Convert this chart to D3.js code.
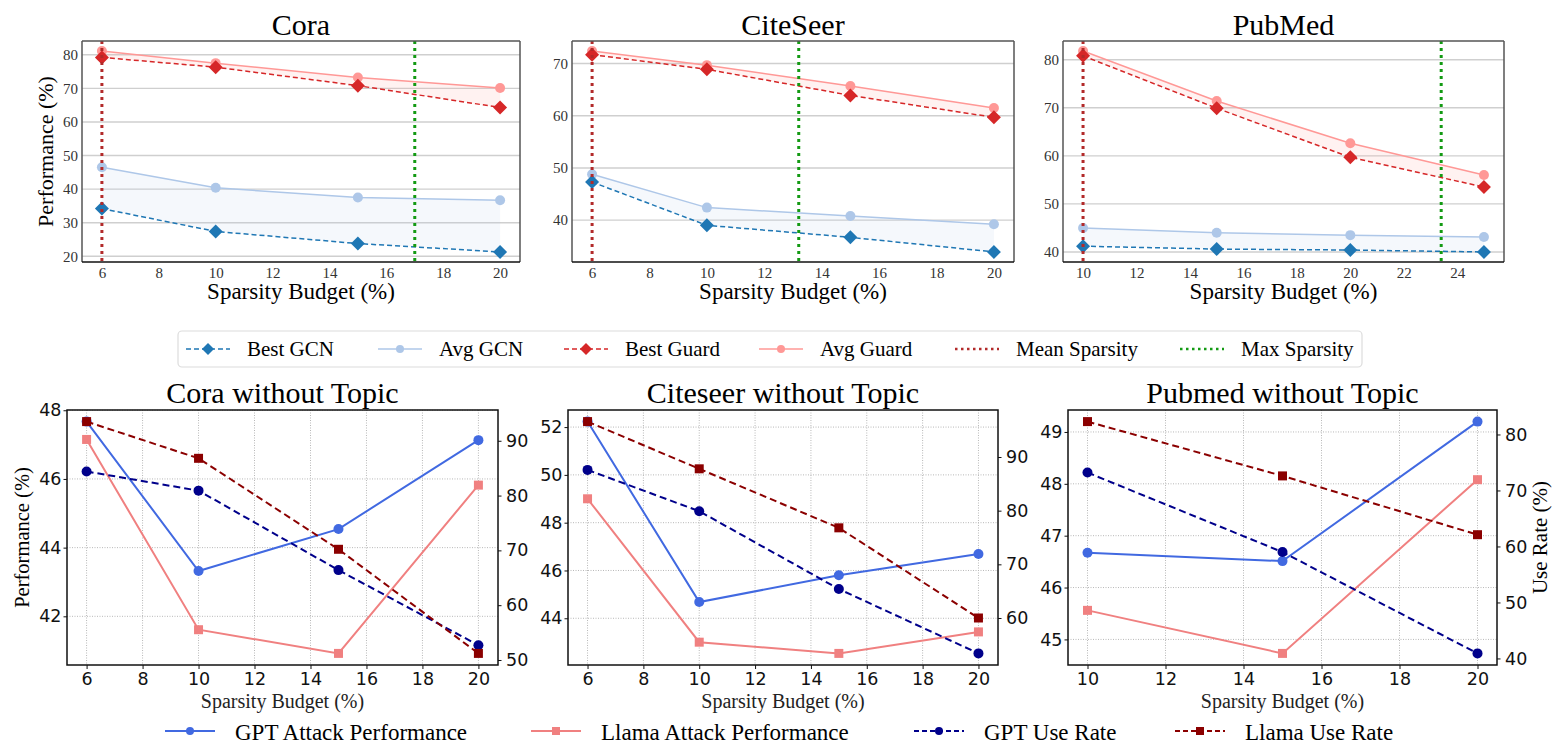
<!DOCTYPE html>
<html>
<head>
<meta charset="utf-8">
<script src="https://d3js.org/d3.v7.min.js"></script>
<style>
  body { margin:0; background:#fff; }
  svg { display:block; }
</style>
</head>
<body>
<svg width="1555" height="745"></svg>
<script>
// ---------- top row: GCN vs Guard over sparsity budget ----------
var coraBudget    = [6, 10, 15, 20];
var coraBestGCN   = [34.2, 27.4, 23.8, 21.3];
var coraAvgGCN    = [46.5, 40.4, 37.5, 36.7];
var coraBestGuard = [79.2, 76.3, 70.8, 64.3];
var coraAvgGuard  = [81.1, 77.5, 73.2, 70.1];

var citeBudget    = [6, 10, 15, 20];
var citeBestGCN   = [47.3, 39.0, 36.7, 33.9];
var citeAvgGCN    = [48.8, 42.4, 40.8, 39.2];
var citeBestGuard = [71.7, 68.9, 63.9, 59.7];
var citeAvgGuard  = [72.4, 69.7, 65.7, 61.5];

var pubBudget     = [10, 15, 20, 25];
var pubBestGCN    = [41.2, 40.6, 40.4, 40.0];
var pubAvgGCN     = [45.0, 44.0, 43.5, 43.1];
var pubBestGuard  = [80.8, 69.9, 59.7, 53.5];
var pubAvgGuard   = [81.8, 71.4, 62.6, 56.0];

var meanSparsity = [6, 6, 10];
var maxSparsity  = [17.0, 13.2, 23.4];

var topTitles = ["Cora", "CiteSeer", "PubMed"];
var topXTicks = [[6, 8, 10, 12, 14, 16, 18, 20], [6, 8, 10, 12, 14, 16, 18, 20], [10, 12, 14, 16, 18, 20, 22, 24]];
var topYTicks = [[20, 30, 40, 50, 60, 70, 80], [40, 50, 60, 70], [40, 50, 60, 70, 80]];

// ---------- bottom row: without topic ----------
var coraNTBudget      = [6, 10, 15, 20];
var coraGptAttack     = [47.67, 43.32, 44.54, 47.13];
var coraLlamaAttack   = [47.15, 41.61, 40.92, 45.82];
var coraGptUse        = [84.4, 80.9, 66.4, 52.7];
var coraLlamaUse      = [93.5, 86.8, 70.2, 51.2];

var citeNTBudget      = [6, 10, 15, 20];
var citeGptAttack     = [52.23, 44.68, 45.80, 46.69];
var citeLlamaAttack   = [49.0, 43.0, 42.53, 43.43];
var citeGptUse        = [87.6, 79.9, 65.4, 53.4];
var citeLlamaUse      = [96.6, 87.8, 76.8, 60.0];

var pubNTBudget       = [10, 15, 20];
var pubGptAttack      = [46.67, 46.51, 49.2];
var pubLlamaAttack    = [45.56, 44.73, 48.08];
var pubGptUse         = [73.2, 59.0, 40.9];
var pubLlamaUse       = [82.3, 72.6, 62.1];

var bottomTitles = ["Cora without Topic", "Citeseer without Topic", "Pubmed without Topic"];
var bottomXTicks = [[6, 8, 10, 12, 14, 16, 18, 20], [6, 8, 10, 12, 14, 16, 18, 20], [10, 12, 14, 16, 18, 20]];
var bottomLeftTicks = [[42, 44, 46, 48], [44, 46, 48, 50, 52], [45, 46, 47, 48, 49]];
var bottomRightTicks = [[50, 60, 70, 80, 90], [60, 70, 80, 90], [40, 50, 60, 70, 80]];

var serif = "'Liberation Serif','Times New Roman',serif";
var sans = "'DejaVu Sans',sans-serif";
var intFmt = d3.format("d");

var svg = d3.select("svg");

function padDomain(vals) {
  var e = d3.extent(vals), m = (e[1] - e[0]) * 0.05;
  return [e[0] - m, e[1] + m];
}
function diamond(r) { return "M0," + (-r) + "L" + r + ",0L0," + r + "L" + (-r) + ",0Z"; }
function square(r) { return "M" + (-r) + "," + (-r) + "h" + 2 * r + "v" + 2 * r + "h" + (-2 * r) + "Z"; }

function drawMarker(g, kind, cx, cy, color, size) {
  if (kind == "circle") {
    g.append("circle").attr("cx", cx).attr("cy", cy).attr("r", size).attr("fill", color);
  } else {
    g.append("path").attr("d", kind == "diamond" ? diamond(size) : square(size))
      .attr("transform", "translate(" + cx + "," + cy + ")").attr("fill", color);
  }
}

// ---------------- top panels ----------------
var topPanels = [
  {left: 82, right: 520, budget: coraBudget, bestGCN: coraBestGCN, avgGCN: coraAvgGCN, bestGuard: coraBestGuard, avgGuard: coraAvgGuard},
  {left: 572, right: 1014, budget: citeBudget, bestGCN: citeBestGCN, avgGCN: citeAvgGCN, bestGuard: citeBestGuard, avgGuard: citeAvgGuard},
  {left: 1063, right: 1504, budget: pubBudget, bestGCN: pubBestGCN, avgGCN: pubAvgGCN, bestGuard: pubBestGuard, avgGuard: pubAvgGuard}
];
var topTop = 41, topBottom = 262;

var topStyles = {
  avgGCN:    {color: "#aec7e8", dash: null,  marker: "circle",  size: 5},
  bestGCN:   {color: "#1f77b4", dash: "5,3", marker: "diamond", size: 7},
  avgGuard:  {color: "#ff9896", dash: null,  marker: "circle",  size: 5},
  bestGuard: {color: "#d62728", dash: "5,3", marker: "diamond", size: 7}
};
var meanColor = "#b22a2a", maxColor = "#139a13";

topPanels.forEach(function(p, i) {
  var g = svg.append("g");
  var x = d3.scaleLinear().domain(padDomain(p.budget)).range([p.left, p.right]);
  var y = d3.scaleLinear()
    .domain(padDomain([].concat(p.bestGCN, p.avgGCN, p.bestGuard, p.avgGuard)))
    .range([topBottom, topTop]);

  g.selectAll(".grid").data(topYTicks[i]).enter().append("line")
    .attr("x1", p.left).attr("x2", p.right)
    .attr("y1", function(d) { return y(d); }).attr("y2", function(d) { return y(d); })
    .attr("stroke", "#cfcfcf").attr("stroke-width", 1.4);

  function band(lo, hi, color) {
    var rows = p.budget.map(function(b, k) { return {b: b, lo: lo[k], hi: hi[k]}; });
    g.append("path").datum(rows)
      .attr("d", d3.area().x(function(d) { return x(d.b); })
        .y0(function(d) { return y(d.lo); }).y1(function(d) { return y(d.hi); }))
      .attr("fill", color).attr("fill-opacity", 0.13);
  }
  band(p.bestGCN, p.avgGCN, "#aec7e8");
  band(p.bestGuard, p.avgGuard, "#ff9896");

  var line = d3.line().x(function(d) { return x(d[0]); }).y(function(d) { return y(d[1]); });
  ["avgGCN", "bestGCN", "avgGuard", "bestGuard"].forEach(function(key) {
    var st = topStyles[key];
    var pts = p.budget.map(function(b, k) { return [b, p[key][k]]; });
    g.append("path").datum(pts).attr("d", line).attr("fill", "none")
      .attr("stroke", st.color).attr("stroke-width", 1.5)
      .attr("stroke-dasharray", st.dash);
    pts.forEach(function(d) { drawMarker(g, st.marker, x(d[0]), y(d[1]), st.color, st.size); });
  });

  // sparsity markers
  [[meanSparsity[i], meanColor], [maxSparsity[i], maxColor]].forEach(function(v) {
    g.append("line").attr("x1", x(v[0])).attr("x2", x(v[0]))
      .attr("y1", topTop).attr("y2", topBottom)
      .attr("stroke", v[1]).attr("stroke-width", 3).attr("stroke-dasharray", "3,4");
  });

  // spines
  g.append("line").attr("x1", p.left).attr("x2", p.right).attr("y1", topTop).attr("y2", topTop).attr("stroke", "#555").attr("stroke-width", 1.5);
  g.append("line").attr("x1", p.right).attr("x2", p.right).attr("y1", topTop).attr("y2", topBottom).attr("stroke", "#555").attr("stroke-width", 1.5);
  g.append("line").attr("x1", p.left).attr("x2", p.left).attr("y1", topTop).attr("y2", topBottom).attr("stroke", "#555").attr("stroke-width", 1.5);
  g.append("line").attr("x1", p.left).attr("x2", p.right).attr("y1", topBottom).attr("y2", topBottom).attr("stroke", "#111").attr("stroke-width", 1.5);

  var xa = g.append("g").attr("transform", "translate(0," + topBottom + ")")
    .call(d3.axisBottom(x).tickValues(topXTicks[i]).tickFormat(intFmt).tickSize(0).tickPadding(5));
  var ya = g.append("g").attr("transform", "translate(" + p.left + ",0)")
    .call(d3.axisLeft(y).tickValues(topYTicks[i]).tickFormat(intFmt).tickSize(0).tickPadding(4));
  [xa, ya].forEach(function(a) {
    a.select(".domain").remove();
    a.selectAll("text").attr("font-family", serif).attr("font-size", 15).attr("fill", "#333");
  });

  g.append("text").attr("x", (p.left + p.right) / 2).attr("y", 35)
    .attr("text-anchor", "middle").attr("font-family", serif).attr("font-size", 30)
    .text(topTitles[i]);
  g.append("text").attr("x", (p.left + p.right) / 2).attr("y", 299)
    .attr("text-anchor", "middle").attr("font-family", serif).attr("font-size", 23)
    .text("Sparsity Budget (%)");
});

svg.append("text").attr("transform", "translate(45," + (topTop + topBottom) / 2 + ") rotate(-90)")
  .attr("dy", "0.35em").attr("text-anchor", "middle")
  .attr("font-family", serif).attr("font-size", 22).text("Performance (%)");

// top legend
var topLegend = [
  {name: "Best GCN", st: topStyles.bestGCN, x: 186},
  {name: "Avg GCN", st: topStyles.avgGCN, x: 378},
  {name: "Best Guard", st: topStyles.bestGuard, x: 564},
  {name: "Avg Guard", st: topStyles.avgGuard, x: 759},
  {name: "Mean Sparsity", st: {color: meanColor, dash: "2.5,3.5", marker: null}, x: 955},
  {name: "Max Sparsity", st: {color: maxColor, dash: "2.5,3.5", marker: null}, x: 1180}
];
var lg = svg.append("g");
lg.append("rect").attr("x", 178).attr("y", 331).attr("width", 1184).attr("height", 36)
  .attr("rx", 4).attr("fill", "#fff").attr("stroke", "#dcdcdc").attr("stroke-width", 1.2);
topLegend.forEach(function(e) {
  lg.append("line").attr("x1", e.x).attr("x2", e.x + 44).attr("y1", 349).attr("y2", 349)
    .attr("stroke", e.st.color).attr("stroke-width", e.st.marker ? 1.5 : 2.5)
    .attr("stroke-dasharray", e.st.dash);
  if (e.st.marker) drawMarker(lg, e.st.marker, e.x + 22, 349, e.st.color, e.st.marker == "circle" ? 4 : 6);
  lg.append("text").attr("x", e.x + 61).attr("y", 356)
    .attr("font-family", serif).attr("font-size", 21).text(e.name);
});

// ---------------- bottom panels ----------------
var bottomPanels = [
  {left: 67, right: 498, budget: coraNTBudget, gptAttack: coraGptAttack, llamaAttack: coraLlamaAttack, gptUse: coraGptUse, llamaUse: coraLlamaUse},
  {left: 568, right: 998, budget: citeNTBudget, gptAttack: citeGptAttack, llamaAttack: citeLlamaAttack, gptUse: citeGptUse, llamaUse: citeLlamaUse},
  {left: 1068, right: 1497, budget: pubNTBudget, gptAttack: pubGptAttack, llamaAttack: pubLlamaAttack, gptUse: pubGptUse, llamaUse: pubLlamaUse}
];
var botTop = 410, botBottom = 665;

var botStyles = {
  gptAttack:   {color: "#4169e1", dash: null,  marker: "circle", size: 5},
  llamaAttack: {color: "#f08080", dash: null,  marker: "square", size: 4.5},
  gptUse:      {color: "#00008b", dash: "7,4", marker: "circle", size: 5},
  llamaUse:    {color: "#8b0000", dash: "7,4", marker: "square", size: 4.5}
};

bottomPanels.forEach(function(p, i) {
  var g = svg.append("g");
  var x = d3.scaleLinear().domain(padDomain(p.budget)).range([p.left, p.right]);
  var yl = d3.scaleLinear().domain(padDomain(p.gptAttack.concat(p.llamaAttack))).range([botBottom, botTop]);
  var yr = d3.scaleLinear().domain(padDomain(p.gptUse.concat(p.llamaUse))).range([botBottom, botTop]);

  g.selectAll(".gx").data(bottomXTicks[i]).enter().append("line")
    .attr("x1", function(d) { return x(d); }).attr("x2", function(d) { return x(d); })
    .attr("y1", botTop).attr("y2", botBottom)
    .attr("stroke", "#b8b8b8").attr("stroke-width", 1).attr("stroke-dasharray", "1,1.5");
  g.selectAll(".gy").data(bottomLeftTicks[i]).enter().append("line")
    .attr("x1", p.left).attr("x2", p.right)
    .attr("y1", function(d) { return yl(d); }).attr("y2", function(d) { return yl(d); })
    .attr("stroke", "#b8b8b8").attr("stroke-width", 1).attr("stroke-dasharray", "1,1.5");

  [["gptAttack", yl], ["llamaAttack", yl], ["gptUse", yr], ["llamaUse", yr]].forEach(function(s) {
    var st = botStyles[s[0]], ys = s[1];
    var pts = p.budget.map(function(b, k) { return [b, p[s[0]][k]]; });
    g.append("path").datum(pts)
      .attr("d", d3.line().x(function(d) { return x(d[0]); }).y(function(d) { return ys(d[1]); }))
      .attr("fill", "none").attr("stroke", st.color).attr("stroke-width", 2)
      .attr("stroke-dasharray", st.dash);
    pts.forEach(function(d) { drawMarker(g, st.marker, x(d[0]), ys(d[1]), st.color, st.size); });
  });

  g.append("rect").attr("x", p.left).attr("y", botTop)
    .attr("width", p.right - p.left).attr("height", botBottom - botTop)
    .attr("fill", "none").attr("stroke", "#111").attr("stroke-width", 1.5);

  var xa = g.append("g").attr("transform", "translate(0," + botBottom + ")")
    .call(d3.axisBottom(x).tickValues(bottomXTicks[i]).tickFormat(intFmt).tickSize(4).tickPadding(4));
  var yla = g.append("g").attr("transform", "translate(" + p.left + ",0)")
    .call(d3.axisLeft(yl).tickValues(bottomLeftTicks[i]).tickFormat(intFmt).tickSize(3.5).tickPadding(2));
  var yra = g.append("g").attr("transform", "translate(" + p.right + ",0)")
    .call(d3.axisRight(yr).tickValues(bottomRightTicks[i]).tickFormat(intFmt).tickSize(3.5).tickPadding(4.5));
  [xa, yla, yra].forEach(function(a) {
    a.select(".domain").remove();
    a.selectAll("line").attr("stroke", "#111");
    a.selectAll("text").attr("font-family", sans).attr("font-size", 17.5).attr("fill", "#111");
  });

  g.append("text").attr("x", (p.left + p.right) / 2).attr("y", 403)
    .attr("text-anchor", "middle").attr("font-family", serif).attr("font-size", 30)
    .text(bottomTitles[i]);
  g.append("text").attr("x", (p.left + p.right) / 2).attr("y", 708)
    .attr("text-anchor", "middle").attr("font-family", serif).attr("font-size", 20)
    .attr("fill", "#222").text("Sparsity Budget (%)");
});

svg.append("text").attr("transform", "translate(22," + (botTop + botBottom) / 2 + ") rotate(-90)")
  .attr("dy", "0.35em").attr("text-anchor", "middle")
  .attr("font-family", serif).attr("font-size", 20.5).text("Performance (%)");
svg.append("text").attr("transform", "translate(1540," + (botTop + botBottom) / 2 + ") rotate(-90)")
  .attr("dy", "0.35em").attr("text-anchor", "middle")
  .attr("font-family", serif).attr("font-size", 21).text("Use Rate (%)");

// bottom legend
var botLegend = [
  {name: "GPT Attack Performance", st: botStyles.gptAttack, x: 165},
  {name: "Llama Attack Performance", st: botStyles.llamaAttack, x: 531},
  {name: "GPT Use Rate", st: botStyles.gptUse, x: 914},
  {name: "Llama Use Rate", st: botStyles.llamaUse, x: 1175}
];
var bl = svg.append("g");
botLegend.forEach(function(e) {
  bl.append("line").attr("x1", e.x).attr("x2", e.x + 50).attr("y1", 731).attr("y2", 731)
    .attr("stroke", e.st.color).attr("stroke-width", 2)
    .attr("stroke-dasharray", e.st.dash ? "5,3" : null);
  drawMarker(bl, e.st.marker, e.x + 25, 731, e.st.color, 4);
  bl.append("text").attr("x", e.x + 70).attr("y", 740)
    .attr("font-family", serif).attr("font-size", 23).text(e.name);
});
</script>
</body>
</html>
